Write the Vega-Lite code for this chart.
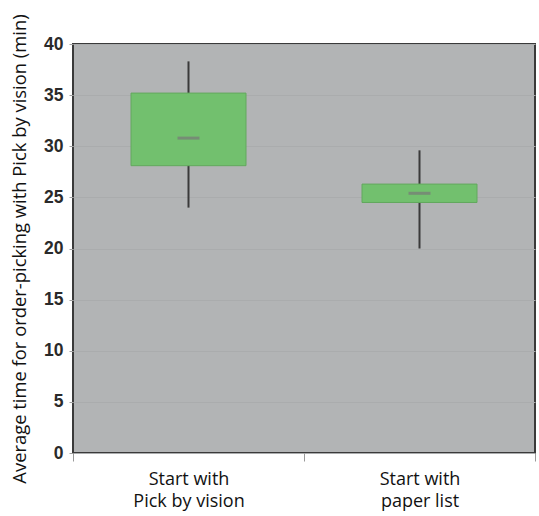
{
  "$schema": "https://vega.github.io/schema/vega-lite/v6.json",
  "width": 462,
  "height": 409,
  "autosize": {"type": "none"},
  "padding": {"left": 73, "top": 44, "right": 4, "bottom": 63},
  "background": "white",
  "config": {
    "view": {"fill": "#b2b4b5", "stroke": "#3a3a3a", "strokeWidth": 2}
  },
  "data": {
    "values": [
      {"group": "Start with|Pick by vision", "lo": 24.0, "q1": 28.1, "median": 30.8, "q3": 35.2, "hi": 38.3},
      {"group": "Start with|paper list", "lo": 20.0, "q1": 24.5, "median": 25.4, "q3": 26.3, "hi": 29.6}
    ]
  },
  "encoding": {
    "x": {
      "field": "group",
      "type": "nominal",
      "sort": null,
      "scale": {"paddingInner": 0, "paddingOuter": 0},
      "axis": {
        "title": null,
        "labelAngle": 0,
        "labelExpr": "split(datum.label, '|')",
        "labelFont": "Open Sans",
        "labelFontSize": 18,
        "labelColor": "#111",
        "labelLineHeight": 22,
        "labelPadding": 9,
        "tickBand": "extent",
        "tickSize": 8,
        "tickColor": "#999",
        "domain": false,
        "grid": false
      }
    }
  },
  "layer": [
    {
      "mark": {"type": "rule", "color": "#3a3a3a", "strokeWidth": 2},
      "encoding": {
        "y": {
          "field": "lo",
          "type": "quantitative",
          "scale": {"domain": [0, 40], "nice": false},
          "axis": {
            "title": "Average time for order-picking with Pick by vision (min)",
            "titleFont": "Open Sans",
            "titleFontSize": 18.4,
            "titleFontWeight": "normal",
            "titleColor": "#111",
            "titlePadding": 14,
            "values": [0, 5, 10, 15, 20, 25, 30, 35, 40],
            "labelFont": "Liberation Sans",
            "labelFontSize": 17.5,
            "labelFontWeight": "bold",
            "labelColor": "#2a2a2a",
            "labelPadding": 6,
            "tickSize": 4,
            "tickColor": "#a0a0a0",
            "domain": false,
            "grid": true,
            "gridColor": "#aaacad",
            "gridWidth": 1
          }
        },
        "y2": {"field": "hi"}
      }
    },
    {
      "mark": {"type": "bar", "color": "#72c06e", "stroke": "#62a85e", "strokeWidth": 1, "size": 115},
      "encoding": {
        "y": {"field": "q1", "type": "quantitative"},
        "y2": {"field": "q3"}
      }
    },
    {
      "mark": {"type": "tick", "color": "#777777", "thickness": 3, "size": 22, "orient": "horizontal"},
      "encoding": {
        "y": {"field": "median", "type": "quantitative"}
      }
    }
  ]
}
